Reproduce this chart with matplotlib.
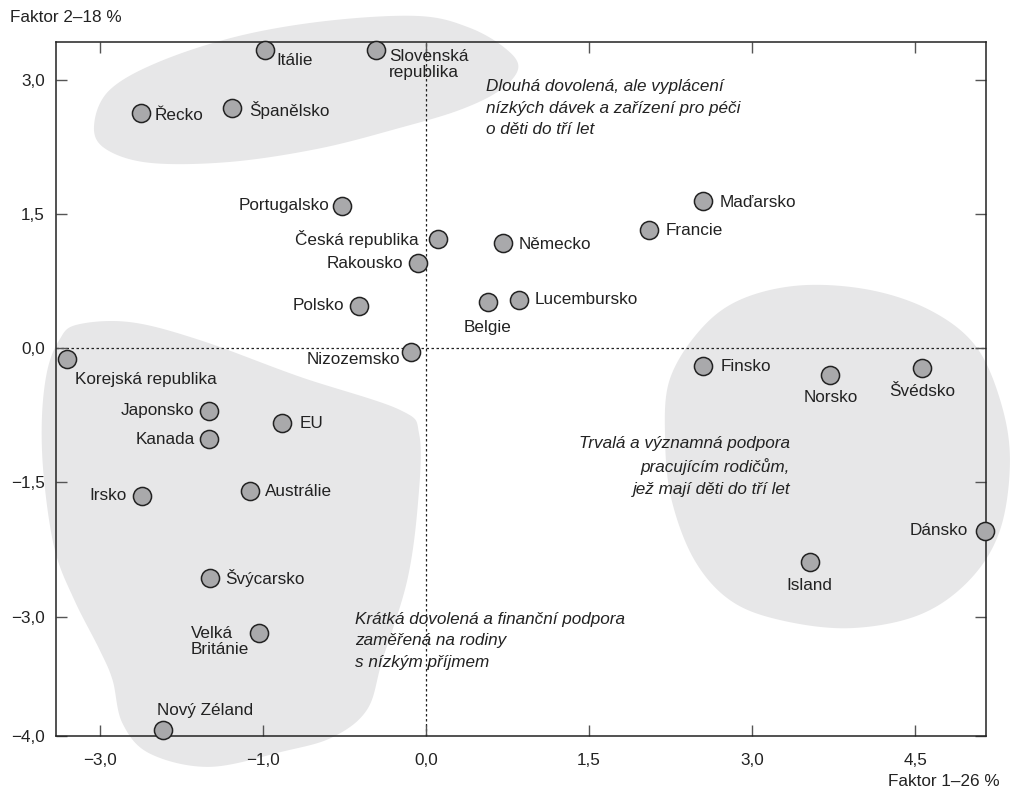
import numpy as np
import matplotlib.pyplot as plt
from matplotlib import font_manager

# data: country scores on factor 1 (x) and factor 2 (y)
countries = ['Itálie', 'Slovenská\nrepublika', 'Řecko', 'Španělsko', 'Portugalsko',
             'Česká republika', 'Rakousko', 'Německo', 'Maďarsko', 'Francie',
             'Polsko', 'Belgie', 'Lucembursko', 'Nizozemsko', 'Korejská republika',
             'Japonsko', 'Kanada', 'EU', 'Irsko', 'Austrálie', 'Švýcarsko',
             'Velká\nBritánie', 'Nový Zéland', 'Finsko', 'Norsko', 'Švédsko',
             'Dánsko', 'Island']
factor1 = [-1.48, -0.46, -2.62, -1.78, -0.77, 0.11, -0.07, 0.71, 2.55, 2.05,
           -0.61, 0.57, 0.86, -0.14, -3.30, -1.99, -1.99, -1.32, -2.61, -1.62,
           -1.98, -1.53, -2.42, 2.55, 3.72, 4.56, 5.14, 3.53]
factor2 = [3.33, 3.33, 2.63, 2.68, 1.59, 1.22, 0.95, 1.17, 1.64, 1.32,
           0.47, 0.51, 0.54, -0.04, -0.12, -0.70, -1.02, -0.84, -1.65, -1.60,
           -2.57, -3.18, -4.27, -0.20, -0.30, -0.22, -2.04, -2.39]

xticks = [-3.0, -1.5, 0.0, 1.5, 3.0, 4.5]
xticklabels = ['\u22123,0', '\u22121,0', '0,0', '1,5', '3,0', '4,5']
yticks = [3.0, 1.5, 0.0, -1.5, -3.0, -4.335]
yticklabels = ['3,0', '1,5', '0,0', '\u22121,5', '\u22123,0', '\u22124,0']

# cluster outlines (data coords)
blob_top = [(-3.05, 2.49), (-2.91, 2.88), (-2.45, 3.20), (-1.71, 3.49), (-0.88, 3.66),
            (-0.06, 3.71), (0.40, 3.58), (0.73, 3.35), (0.85, 3.13), (0.68, 2.88),
            (0.31, 2.66), (-0.24, 2.46), (-0.98, 2.23), (-1.80, 2.08), (-2.54, 2.07),
            (-2.95, 2.23)]
blob_left = [(-3.21, 0.26), (-2.72, 0.29), (-2.08, 0.09), (-1.16, -0.32), (-0.24, -0.69),
             (-0.06, -0.97), (-0.07, -1.70), (-0.17, -2.59), (-0.40, -3.49), (-0.54, -4.04),
             (-0.86, -4.35), (-1.32, -4.51), (-1.99, -4.68), (-2.54, -4.53), (-2.79, -4.19),
             (-2.88, -3.71), (-3.00, -3.37), (-3.23, -2.82), (-3.41, -2.26), (-3.51, -1.47),
             (-3.53, -0.80), (-3.48, -0.25), (-3.37, 0.09)]
blob_right = [(2.24, -0.36), (2.52, 0.20), (2.89, 0.54), (3.44, 0.70), (4.08, 0.65),
              (4.64, 0.42), (5.05, 0.03), (5.28, -0.58), (5.37, -1.25), (5.28, -2.03),
              (5.00, -2.59), (4.54, -2.98), (3.90, -3.13), (3.26, -3.04), (2.80, -2.82),
              (2.47, -2.37), (2.26, -1.70), (2.20, -1.03)]

notes = ['Dlouhá dovolená, ale vyplácení\nnízkých dávek a zařízení pro péči\no děti do tří let',
         'Trvalá a významná podpora\npracujícím rodičům,\njež mají děti do tří let',
         'Krátká dovolená a finanční podpora\nzaměřená na rodiny\ns nízkým příjmem']

# label placement (offset in pixels, ha, va)
label_pos = [(12, -10, 'left', 'center'), (13, 1, 'left', 'top'), (14, -3, 'left', 'center'),
             (17, -2, 'left', 'center'), (-13, 0, 'right', 'center'), (-19, 0, 'right', 'center'),
             (-15, 0, 'right', 'center'), (16, -1, 'left', 'center'), (16, -1, 'left', 'center'),
             (17, -1, 'left', 'center'), (-15, 0, 'right', 'center'), (0, -25, 'center', 'center'),
             (15, 0, 'left', 'center'), (-10, -8, 'right', 'center'), (8, -21, 'left', 'center'),
             (-15, 0, 'right', 'center'), (-14, 0, 'right', 'center'), (17, 0, 'left', 'center'),
             (-15, 0, 'right', 'center'), (15, 0, 'left', 'center'), (15, 0, 'left', 'center'),
             (-10, -9, 'right', 'center'), (-6, 20, 'left', 'center'), (17, -1, 'left', 'center'),
             (0, -23, 'center', 'center'), (0, -24, 'center', 'center'), (-17, 0, 'right', 'center'),
             (0, -24, 'center', 'center')]

names = {f.name for f in font_manager.fontManager.ttflist}
if 'Liberation Sans Narrow' in names:
    plt.rcParams['font.family'] = ['Liberation Sans Narrow', 'DejaVu Sans']
    fs = 15
else:
    plt.rcParams['font.family'] = ['Liberation Sans', 'DejaVu Sans']
    fs = 12.3
ink = '#222222'


def smooth(pts, n=24):
    p = np.array(pts)
    P = np.vstack([p[-1], p, p[0], p[1]])
    t = np.linspace(0, 1, n, endpoint=False)[:, None]
    out = []
    for i in range(1, len(p) + 1):
        p0, p1, p2, p3 = P[i - 1], P[i], P[i + 1], P[i + 2]
        out.append(0.5 * (2 * p1 + (-p0 + p2) * t + (2 * p0 - 5 * p1 + 4 * p2 - p3) * t ** 2
                          + (-p0 + 3 * p1 - 3 * p2 + p3) * t ** 3))
    return np.vstack(out)


fig = plt.figure(figsize=(10.12, 7.96), dpi=100)
ax = fig.add_axes([56 / 1012, 60 / 796, 930 / 1012, 694 / 796])
ax.set_xlim(-3.40, 5.15)
ax.set_ylim(-4.335, 3.42)

for b in [blob_top, blob_left, blob_right]:
    s = smooth(b)
    ax.fill(s[:, 0], s[:, 1], color='#e7e7e8', lw=0, zorder=0, clip_on=False)

ax.axhline(0, color=ink, lw=0.9, ls=(0, (2, 2)), zorder=1)
ax.axvline(0, color=ink, lw=0.9, ls=(0, (2, 2)), zorder=1)

ax.scatter(factor1, factor2, s=170, facecolor='#a9a9ab', edgecolor=ink, linewidth=1.1,
           zorder=4, clip_on=False)

for name, x, y, (dx, dy, ha, va) in zip(countries, factor1, factor2, label_pos):
    ax.annotate(name, (x, y), xytext=(dx, dy), textcoords='offset pixels', ha=ha, va=va,
                fontsize=fs, color=ink, linespacing=1.12, multialignment='left', zorder=5)

ax.text(0.55, 2.68, notes[0], fontsize=fs, style='italic', color=ink, ha='left', va='center',
        linespacing=1.55)
ax.text(3.35, -1.32, notes[1], fontsize=fs, style='italic', color=ink, ha='right', va='center',
        linespacing=1.55, multialignment='right')
ax.text(-0.65, -3.27, notes[2], fontsize=fs, style='italic', color=ink, ha='left', va='center',
        linespacing=1.55)

ax.set_xticks(xticks)
ax.set_xticklabels(xticklabels)
ax.set_yticks(yticks)
ax.set_yticklabels(yticklabels)
ax.tick_params(direction='in', length=8, width=1, color='#555555', labelsize=fs,
               labelcolor=ink, top=True, right=True, pad=8)
ax.tick_params(axis='x', pad=12)
for sp in ax.spines.values():
    sp.set_color(ink)
    sp.set_linewidth(1.1)
    sp.set_zorder(3)

fig.text(10 / 1012, 1 - 18 / 796, 'Faktor 2\u201318 %', fontsize=fs, color=ink, ha='left', va='center')
fig.text(1000 / 1012, 1 - 782 / 796, 'Faktor 1\u201326 %', fontsize=fs, color=ink, ha='right', va='center')

plt.savefig('out.png', dpi=100)
